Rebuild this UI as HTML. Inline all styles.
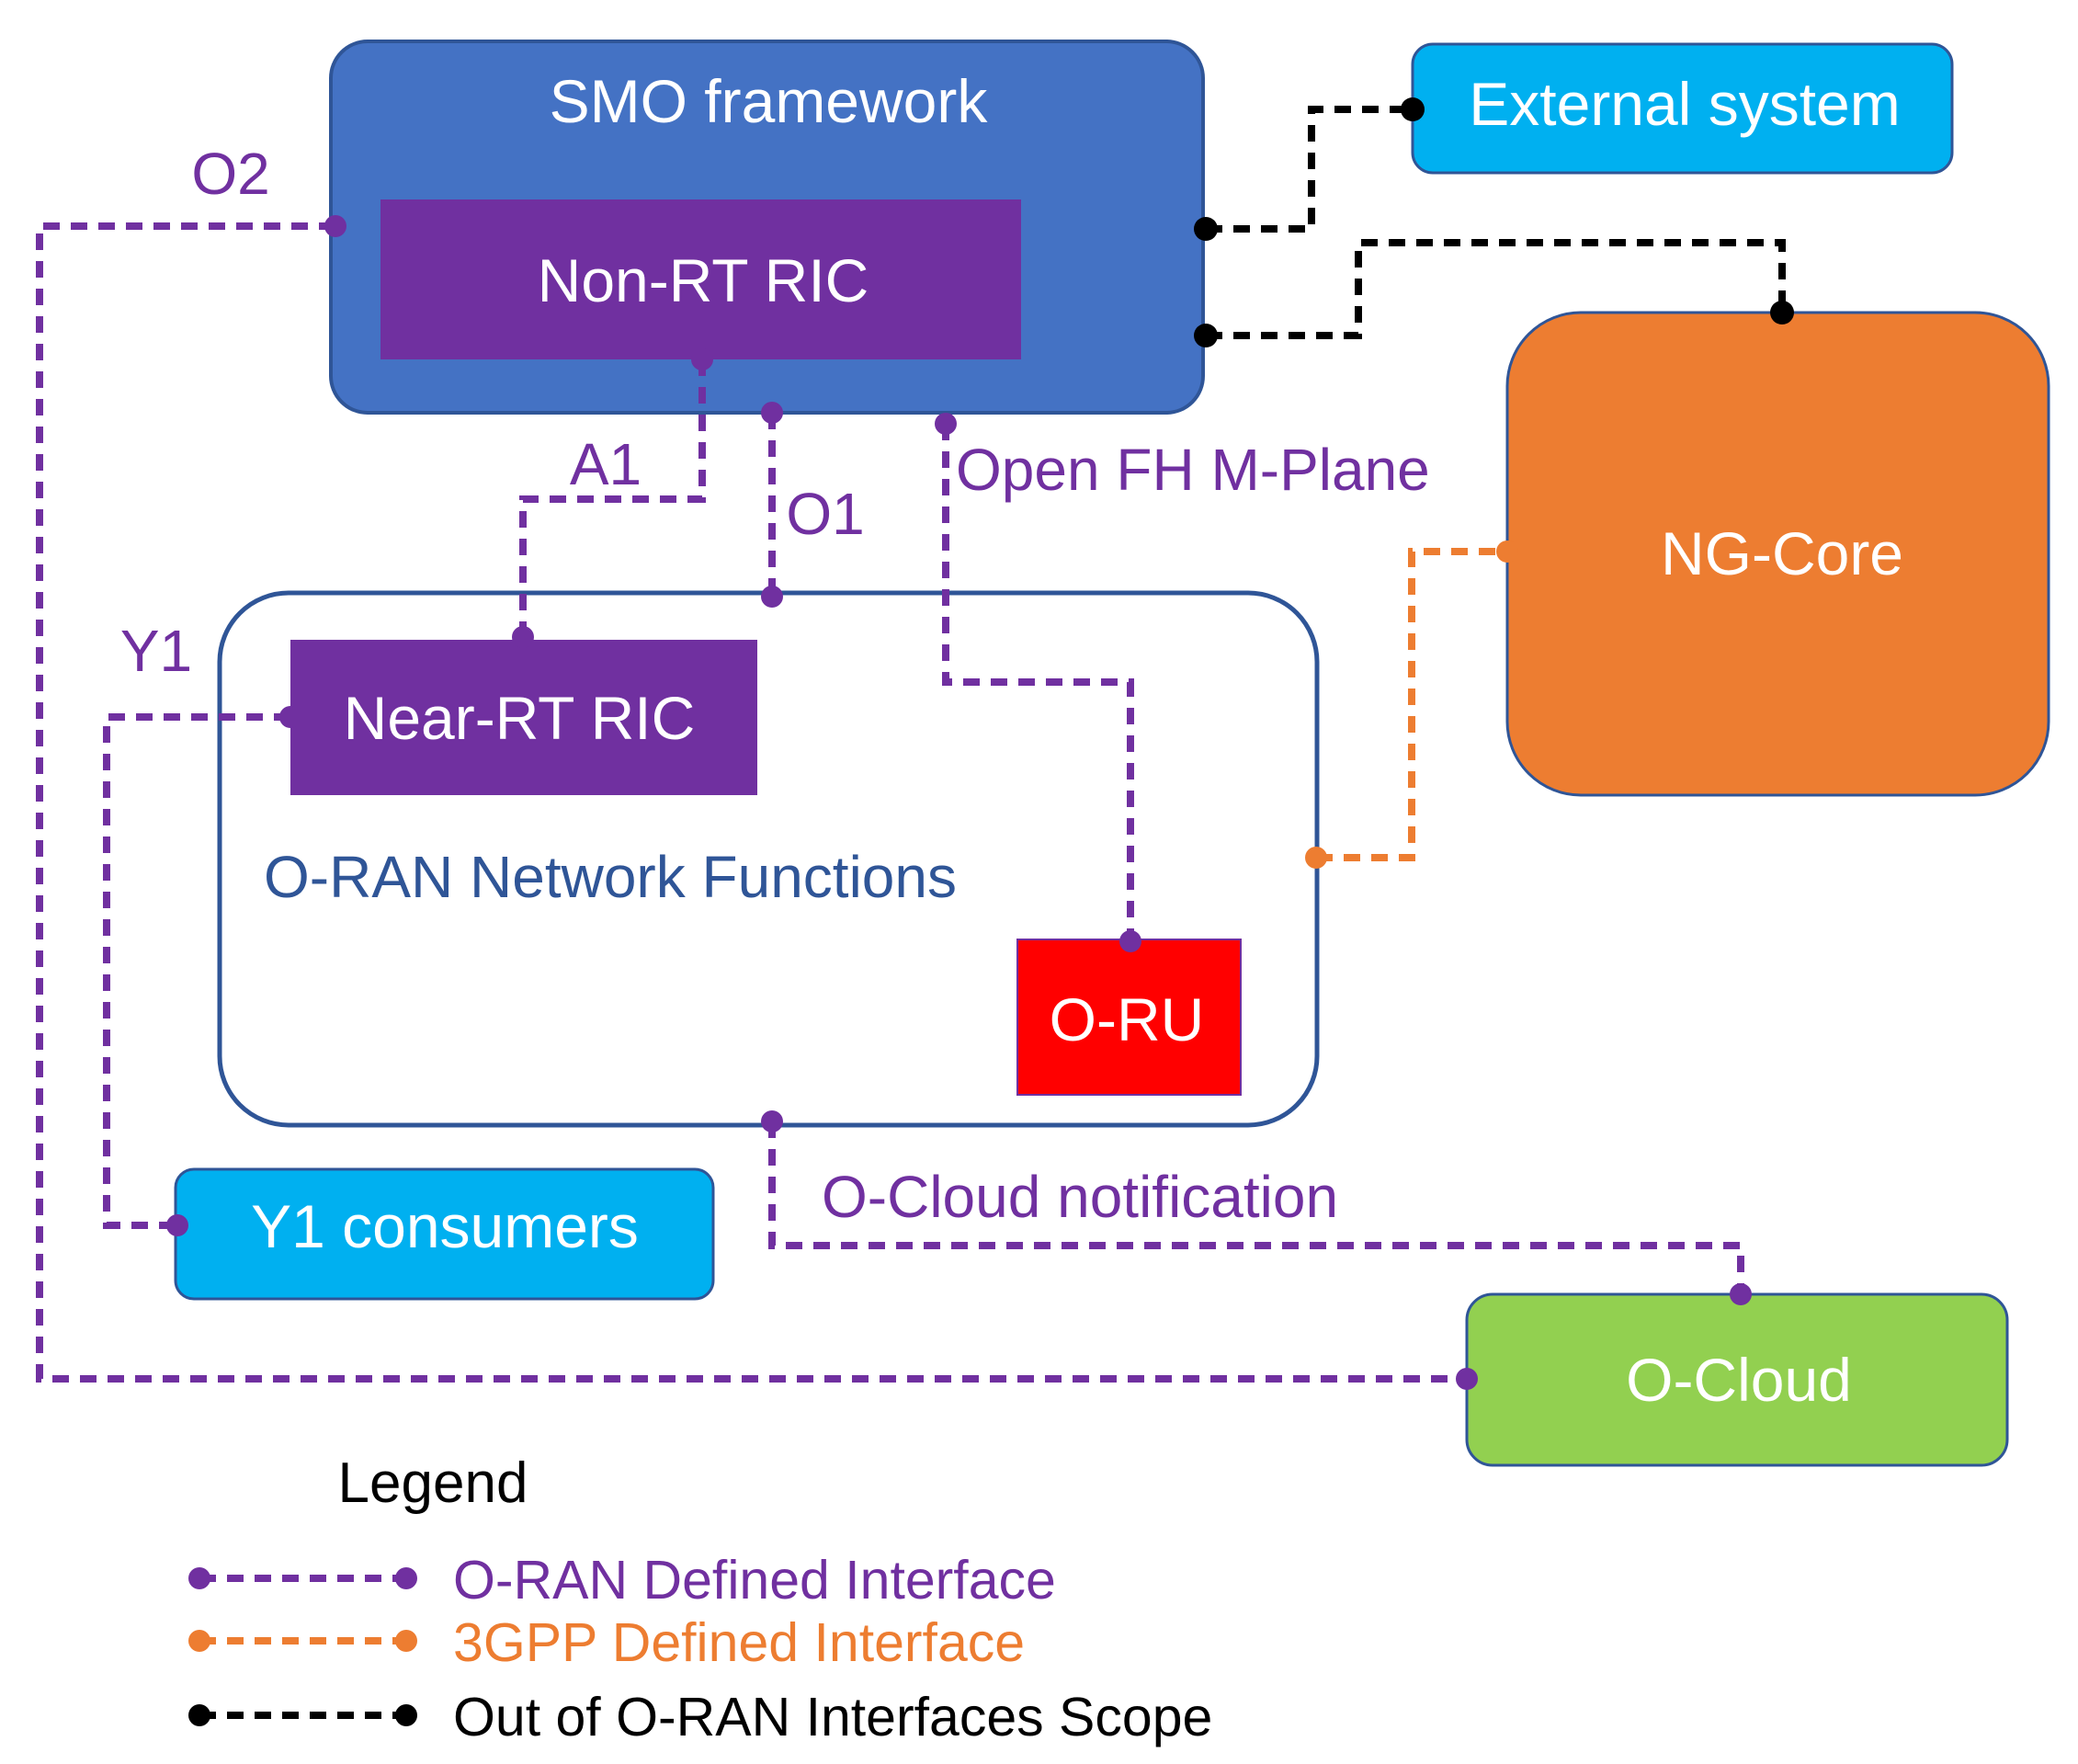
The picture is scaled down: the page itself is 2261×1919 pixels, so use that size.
<!DOCTYPE html>
<html><head><meta charset="utf-8"><style>
html,body{margin:0;padding:0;background:#fff;}
svg{display:block;}
text{font-family:"Liberation Sans",sans-serif;}
</style></head><body>
<svg width="2261" height="1919" viewBox="0 0 2261 1919" xmlns="http://www.w3.org/2000/svg">
<rect x="360" y="45" width="949" height="404" rx="40" fill="#4472C4" stroke="#2F5597" stroke-width="4"/>
<rect x="414" y="217" width="697" height="174" fill="#7030A0"/>
<rect x="1537" y="48" width="587" height="140" rx="22" fill="#00B0F0" stroke="#2F5597" stroke-width="3"/>
<rect x="1640" y="340" width="589" height="525" rx="80" fill="#ED7D31" stroke="#2F5597" stroke-width="3"/>
<rect x="239" y="645" width="1194" height="579" rx="75" fill="none" stroke="#2F5597" stroke-width="5"/>
<rect x="316" y="696" width="508" height="169" fill="#7030A0"/>
<rect x="1107" y="1022" width="243" height="169" fill="#FF0000" stroke="#7030A0" stroke-width="2"/>
<rect x="191" y="1272" width="585" height="141" rx="20" fill="#00B0F0" stroke="#2F5597" stroke-width="3"/>
<rect x="1596" y="1408" width="588" height="186" rx="28" fill="#92D050" stroke="#2F5597" stroke-width="3"/>

<g fill="none" stroke-width="8" stroke-dasharray="18,12">
<path d="M365 246 H43 V1500 H1596" stroke="#7030A0"/>
<path d="M316 780 H116 V1333 H193" stroke="#7030A0"/>
<path d="M764 391 V543 H569 V693" stroke="#7030A0"/>
<path d="M840 449 V649" stroke="#7030A0"/>
<path d="M1029 461 V742 H1230 V1024" stroke="#7030A0"/>
<path d="M840 1220 V1355 H1894 V1408" stroke="#7030A0"/>
<path d="M1312 249 H1427 V119 H1537" stroke="#000"/>
<path d="M1312 365 H1478 V264 H1939 V340" stroke="#000"/>
<path d="M1432 933 H1536 V600 H1640" stroke="#ED7D31"/>
<path d="M217 1717 H442" stroke="#7030A0"/>
<path d="M217 1785 H442" stroke="#ED7D31"/>
<path d="M217 1866 H442" stroke="#000"/>
</g>
<g fill="#7030A0">
<circle cx="365" cy="246" r="12"/><circle cx="1596" cy="1500" r="12"/>
<circle cx="316" cy="780" r="12"/><circle cx="193" cy="1333" r="12"/>
<circle cx="764" cy="391" r="12"/><circle cx="569" cy="693" r="12"/>
<circle cx="840" cy="449" r="12"/><circle cx="840" cy="649" r="12"/>
<circle cx="1029" cy="461" r="12"/><circle cx="1230" cy="1024" r="12"/>
<circle cx="840" cy="1220" r="12"/><circle cx="1894" cy="1408" r="12"/>
<circle cx="217" cy="1717" r="12"/><circle cx="442" cy="1717" r="12"/>
</g>
<g fill="#000">
<circle cx="1312" cy="249" r="13"/><circle cx="1537" cy="119" r="13"/>
<circle cx="1312" cy="365" r="13"/><circle cx="1939" cy="340" r="13"/>
<circle cx="217" cy="1866" r="12"/><circle cx="442" cy="1866" r="12"/>
</g>
<g fill="#ED7D31">
<circle cx="1432" cy="933" r="12"/><circle cx="1640" cy="600" r="12"/>
<circle cx="217" cy="1785" r="12"/><circle cx="442" cy="1785" r="12"/>
</g>

<g font-size="66" fill="#fff" text-anchor="middle">
<text x="836" y="133">SMO framework</text>
<text x="765" y="328">Non-RT RIC</text>
<text x="1833" y="136">External system</text>
<text x="1939" y="625">NG-Core</text>
<text x="565" y="804">Near-RT RIC</text>
<text x="1226" y="1132">O-RU</text>
<text x="484" y="1357">Y1 consumers</text>
<text x="1892" y="1524">O-Cloud</text>
</g>
<g font-size="64" fill="#7030A0">
<text x="251" y="211" text-anchor="middle">O2</text>
<text x="659" y="527" text-anchor="middle">A1</text>
<text x="898" y="581" text-anchor="middle">O1</text>
<text x="1040" y="533">Open FH M-Plane</text>
<text x="170" y="730" text-anchor="middle">Y1</text>
<text x="894" y="1324">O-Cloud notification</text>
<text x="493" y="1739" font-size="59">O-RAN Defined Interface</text>
</g>
<text x="287" y="976" font-size="64" fill="#2F5597">O-RAN Network Functions</text>
<text x="471" y="1634" font-size="62" fill="#000" text-anchor="middle">Legend</text>
<text x="493" y="1807" font-size="59" fill="#ED7D31">3GPP Defined Interface</text>
<text x="493" y="1888" font-size="59" fill="#000">Out of O-RAN Interfaces Scope</text>
</svg>
</body></html>
